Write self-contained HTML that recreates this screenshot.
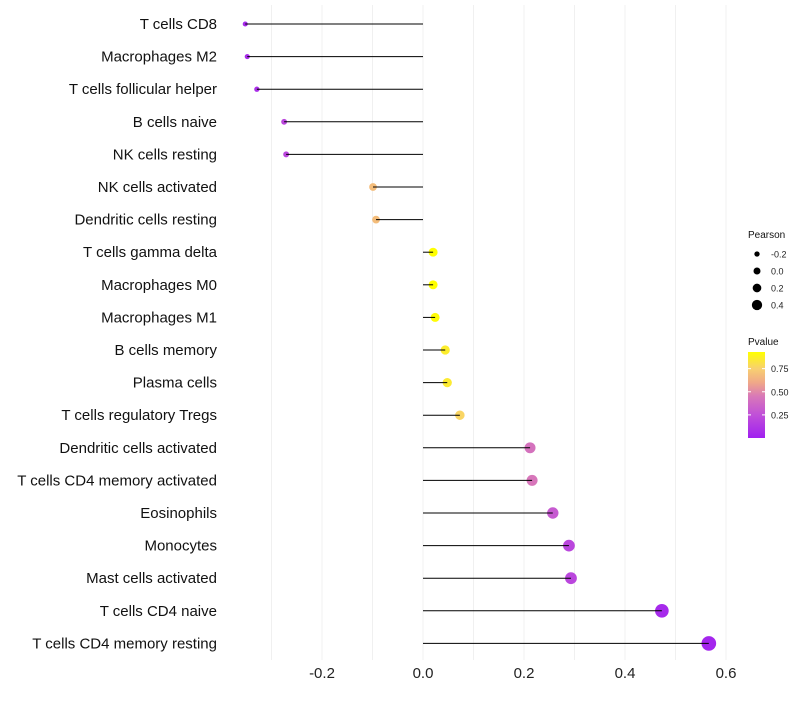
<!DOCTYPE html>
<html><head><meta charset="utf-8"><style>
body{margin:0;background:#fff;font-family:"Liberation Sans",sans-serif}
</style></head><body>
<svg id="c" width="800" height="700" xmlns="http://www.w3.org/2000/svg"></svg>
<script>
const categories=["T cells CD8","Macrophages M2","T cells follicular helper","B cells naive","NK cells resting","NK cells activated","Dendritic cells resting","T cells gamma delta","Macrophages M0","Macrophages M1","B cells memory","Plasma cells","T cells regulatory  Tregs ","Dendritic cells activated","T cells CD4 memory activated","Eosinophils","Monocytes","Mast cells activated","T cells CD4 naive","T cells CD4 memory resting"];
const pearson=[-0.352,-0.348,-0.329,-0.275,-0.271,-0.099,-0.093,0.02,0.02,0.024,0.044,0.048,0.073,0.212,0.216,0.257,0.289,0.293,0.473,0.566];
const pvalues=[0.05,0.06,0.08,0.2,0.2,0.68,0.68,0.93,0.93,0.92,0.86,0.85,0.77,0.42,0.44,0.3,0.2,0.2,0.05,0.03];
const xTicks=[-0.2,0,0.2,0.4,0.6];
const xTickLabels=["-0.2","0.0","0.2","0.4","0.6"];
const sizeLegend=[-0.2,0,0.2,0.4];
const colorLegend=[0.25,0.5,0.75];
const NS="http://www.w3.org/2000/svg",svg=document.getElementById('c');
function el(t,a,p){const e=document.createElementNS(NS,t);for(const k in a)e.setAttribute(k,a[k]);(p||svg).appendChild(e);return e;}
const x=v=>423+v*505;
const y=i=>24+i*32.6;
const r=v=>2.5+(v+0.36)*5.2;
const stops=[[0,[160,32,240]],[0.25,[192,80,216]],[0.45,[216,120,184]],[0.6,[240,168,136]],[0.75,[248,208,112]],[0.93,[255,255,0]]];
function col(p){p=Math.max(0,Math.min(0.93,p));for(let k=1;k<stops.length;k++){if(p<=stops[k][0]){const [p0,a]=stops[k-1],[p1,b]=stops[k];const t=(p-p0)/(p1-p0);return `rgb(${a.map((c,i)=>Math.round(c+(b[i]-c)*t)).join(',')})`;}}return 'rgb(255,255,0)';}
for(let v=-0.3;v<=0.61;v+=0.1){const g=el('line',{x1:x(v),x2:x(v),y1:5,y2:660,stroke:'#f0f0f0','stroke-width':1});}
xTicks.forEach((v,i)=>{const t=el('text',{x:x(v),y:678,'text-anchor':'middle','font-size':15,fill:'#222'});t.textContent=xTickLabels[i];});
categories.forEach((c,i)=>{
 const t=el('text',{x:217,y:y(i)+5,'text-anchor':'end','font-size':15,fill:'#111'});t.textContent=c;
 const d=el('circle',{cx:x(pearson[i]),cy:y(i),r:r(pearson[i]),fill:col(pvalues[i])});
 const l=el('line',{x1:x(0),x2:x(pearson[i]),y1:y(i),y2:y(i),stroke:'#000','stroke-width':1});
});
let t=el('text',{x:748,y:238,'font-size':10,fill:'#111'});t.textContent='Pearson';
sizeLegend.forEach((v,i)=>{const cy=254+i*17;const c=el('circle',{cx:757,cy:cy,r:r(v)*0.8,fill:'#000'});
 const s=el('text',{x:771,y:cy+3.5,'font-size':9,fill:'#222'});s.textContent=v.toFixed(1);});
t=el('text',{x:748,y:345,'font-size':10,fill:'#111'});t.textContent='Pvalue';
const defs=el('defs',{});const lg=el('linearGradient',{id:'g',x1:0,y1:1,x2:0,y2:0},defs);
stops.forEach(s=>el('stop',{offset:s[0]/0.93,'stop-color':`rgb(${s[1].join(',')})`},lg));
const bar=el('rect',{x:748,y:352,width:17,height:86,fill:'url(#g)'});
const cy=p=>438-p/0.93*86;
colorLegend.forEach(p=>{const s=el('text',{x:771,y:cy(p)+3.5,'font-size':9,fill:'#222'});s.textContent=p.toFixed(2);
 el('line',{x1:748,x2:751,y1:cy(p),y2:cy(p),stroke:'#fff'});el('line',{x1:762,x2:765,y1:cy(p),y2:cy(p),stroke:'#fff'});});
</script>
</body></html>
